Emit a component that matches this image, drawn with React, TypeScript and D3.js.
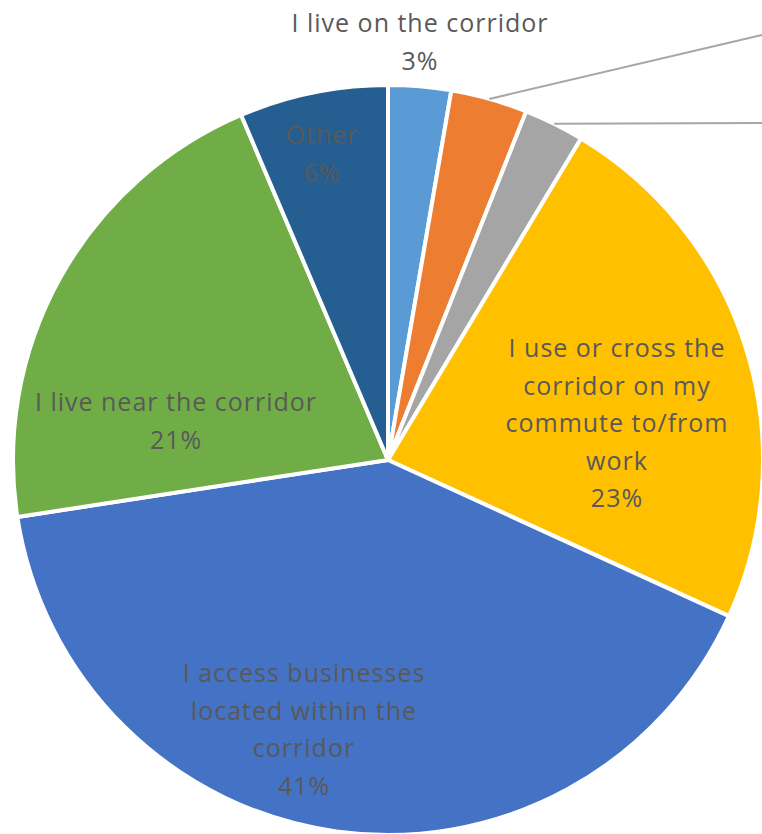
import React from "react";
import * as d3 from "d3";

const categories = [
  "I live on the corridor",
  "I work on the corridor",
  "I own a business on the corridor",
  "I use or cross the corridor on my commute to/from work",
  "I access businesses located within the corridor",
  "I live near the corridor",
  "Other",
];
const values = [2.7, 3.3, 2.6, 23.2, 40.7, 21.0, 6.4];
const percentLabels = ["3%", "3%", "3%", "23%", "41%", "21%", "6%"];
const labelLines = [
  ["I live on the corridor"],
  [],
  [],
  ["I use or cross the", "corridor on my", "commute to/from", "work"],
  ["I access businesses", "located within the", "corridor"],
  ["I live near the corridor"],
  ["Other"],
];
const colors = ["#5B9BD5", "#ED7D31", "#A5A5A5", "#FFC000", "#4472C4", "#70AD47", "#255E91"];

// label anchor offsets relative to pie center (first baseline)
const labelOffsets: ([number, number] | null)[] = [
  [32, -428],
  null,
  null,
  [229, -103],
  [-84, 222],
  [-212, -49],
  [-66, -316],
];
// leader lines for the off-chart labels
const leaders: ({ r: number; ex: number; ey: number } | null)[] = [
  null,
  { r: 1.0, ex: 762, ey: 35 },
  { r: 1.0, ex: 762, ey: 123 },
  null,
  null,
  null,
  null,
];

const W = 762;
const H = 834;
const cx = 388;
const cy = 460;
const R = 375;
const lineH = 37.6;

export default function App() {
  const data = categories.map((c, i) => ({ c, v: values[i], i }));
  const pie = d3.pie<any>().value((d) => d.v).sort(null);
  const arcs = pie(data);
  const arc = d3.arc<any>().innerRadius(0).outerRadius(R);
  return (
    <svg
      width={W}
      height={H}
      style={{ position: "absolute", left: 0, top: 0 }}
      fontFamily="'Open Sans', sans-serif"
    >
      <rect width={W} height={H} fill="#fff" />
      <g transform={`translate(${cx},${cy})`}>
        {arcs.map((a, i) => (
          <path key={i} d={arc(a) || ""} fill={colors[i]} stroke="#fff" strokeWidth={4} strokeLinejoin="round" />
        ))}
        {arcs.map((a, i) => {
          const L = leaders[i];
          if (!L) return null;
          const mid = (a.startAngle + a.endAngle) / 2;
          const x0 = Math.sin(mid) * R * L.r;
          const y0 = -Math.cos(mid) * R * L.r;
          return (
            <line key={"l" + i} x1={x0} y1={y0} x2={L.ex - cx} y2={L.ey - cy} stroke="#A6A6A6" strokeWidth={2} />
          );
        })}
        {arcs.map((a, i) => {
          const off = labelOffsets[i];
          if (!off) return null;
          const lines = [...labelLines[i], percentLabels[i]];
          return (
            <text key={"t" + i} x={off[0]} y={off[1]} textAnchor="middle" fill="#595959" fontSize={25} letterSpacing={1}>
              {lines.map((s, k) => (
                <tspan key={k} x={off[0]} y={off[1] + k * lineH}>
                  {s}
                </tspan>
              ))}
            </text>
          );
        })}
      </g>
    </svg>
  );
}
